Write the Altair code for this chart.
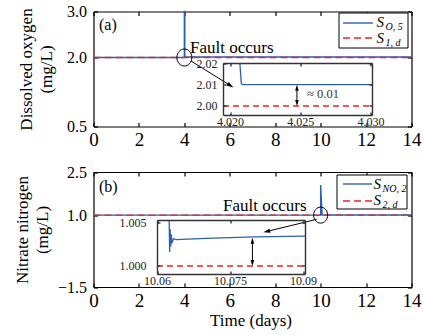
import altair as alt
import pandas as pd

BLUE = "#2f5fb3"
RED = "#e8262c"
FONT = "Liberation Serif"

# ---------------- values ----------------
x_ticks = [0, 2, 4, 6, 8, 10, 12, 14]
x_domain = [0, 14]

# panel (a): dissolved oxygen
a_ydom = [0.5, 3.0]
a_yticks = [0.5, 2.0, 3.0]
a_time = [0.0, 4.0, 4.0001, 4.0207, 4.0208, 14.0]
a_so5 = [2.0, 2.0, 3.6, 3.6, 2.0099, 2.0099]
a_ref_time = [0.0, 14.0]
a_ref = [2.0, 2.0]
# inset (a)
ai_xdom = [4.0195, 4.0301]
ai_ydom = [1.9958, 2.02]
ai_xticks = [4.020, 4.025, 4.030]
ai_yticks = [2.00, 2.01, 2.02]
ai_time = [4.0207, 4.0208, 4.0209, 4.0301]
ai_so5 = [3.6, 2.0105, 2.0099, 2.0099]
ai_ref_time = [4.0195, 4.0301]
ai_ref = [2.0, 2.0]
ai_gap_x = 4.02476
ai_gap_top = 2.0085
ai_gap_bottom = 2.0014
ai_gap_text = "\u2248 0.01"
ai_text_x = 4.02548
ai_text_y = 2.00358

# panel (b): nitrate nitrogen
b_ydom = [-1.5, 2.5]
b_yticks = [-1.5, 1.0, 2.5]
b_time = [0.0, 10.0, 10.0003, 10.0625, 10.065, 14.0]
b_sno2 = [1.0, 1.0, 2.05, 1.01, 1.003, 1.0036]
b_ref_time = [0.0, 14.0]
b_ref = [1.0, 1.0]
# inset (b)
bi_xdom = [10.06, 10.0904]
bi_ydom = [0.99909, 1.00523]
bi_xticks = [10.06, 10.075, 10.09]
bi_yticks = [1.000, 1.005]
bi_time = [10.0625, 10.0626, 10.0627, 10.0628, 10.0629, 10.0631, 10.0634,
           10.064, 10.07, 10.08, 10.0904]
bi_sno2 = [1.02, 1.0016, 1.0042, 1.0022, 1.0036, 1.0027, 1.0031,
           1.0030, 1.00315, 1.0033, 1.0034]
bi_ref_time = [10.06, 10.0904]
bi_ref = [1.0, 1.0]
bi_gap_x = 10.0796
bi_gap_top = 1.00286
bi_gap_bottom = 1.00034

# annotations (data coordinates)
fault_text = "Fault occurs"
a_fault_pt = (4.0, 2.0)
a_arrow_x = [4.292, 6.032]
a_arrow_y = [1.924, 1.389]
a_arrow_angle = 31.9
a_fault_text_pos = (4.248, 2.098)
b_fault_pt = (10.0, 1.0)
b_arrow_x = [9.827, 7.625]
b_arrow_y = [0.855, 0.430]
b_arrow_angle = 166.3
b_fault_text_pos = (5.701, 1.143)

# ---------------- layout (pixels) ----------------
W = 318
H = 275.5
XR = [0, W]
PA = [115, 0]
PB = [275.5, 160.5]
AI_X = [129.5, 278.5]
AI_Y = [103.5, 51.5]
BI_X = [63.5, 211.5]
BI_Y = [262.5, 208.5]

XL = 19
YL = 16
TL = 17

ELLIPSE_A = "M-0.88,0A0.88,1,0,1,0,0.88,0A0.88,1,0,1,0,-0.88,0Z"
HEAD = "M1,0L-1,-0.6L-1,0.6Z"
UP = "M0,-1L-0.6,1L0.6,1Z"
DOWN = "M0,1L-0.6,-1L0.6,-1Z"


def sc(dom, rng):
    return alt.Scale(domain=dom, range=rng, nice=False, zero=False, clamp=True)


def line_df(xs, ys):
    return pd.DataFrame({"x": xs, "y": ys, "i": list(range(len(xs)))})


def ax(orient, offset, values, labels=False, fmt=".1f", lsize=16, pad=4,
       tick=4, color="black", width=1.2, z=0, title=None, tx=None, ty=None,
       lcolor="black"):
    p = dict(orient=orient, offset=offset, values=values, grid=False,
             domain=True, domainColor=color, domainWidth=width,
             ticks=True, tickColor=color, tickWidth=width,
             tickSize={"expr": str(-tick)}, labels=labels, zindex=z,
             labelFlush=False, labelOverlap=False)
    if labels:
        p.update(format=fmt, labelFont=FONT, labelFontSize=lsize,
                 labelPadding=pad, labelColor=lcolor)
    if title is not None:
        p.update(title=title, titleFont=FONT, titleFontSize=TL,
                 titleFontWeight="normal", titleColor="black",
                 titleX=tx, titleY=ty, titleAngle=270 if orient == "left" else 0,
                 titleAlign="center", titleBaseline="middle", titleLineHeight=20)
    else:
        p["title"] = None
    return alt.Axis(**p)


def X(field, dom, rng, axis=None):
    return alt.X(field, type="quantitative", scale=sc(dom, rng), axis=axis)


def Y(field, dom, rng, axis=None):
    return alt.Y(field, type="quantitative", scale=sc(dom, rng), axis=axis)


one = pd.DataFrame({"k": [0]})
layers = []

# ---------- main panel (a) ----------
layers.append(alt.Chart(line_df(a_time, a_so5)).mark_line(color=BLUE, strokeWidth=1.4).encode(
    x=X("x", x_domain, XR, ax("bottom", -160.5, x_ticks, labels=True, fmt="d", lsize=XL, pad=8)),
    y=Y("y", a_ydom, PA, ax("left", 0, a_yticks, labels=True, fmt=".1f", lsize=YL, pad=11,
                            title=["Dissolved oxygen", "(mg/L)"], tx=-67, ty=57.5)),
    order=alt.Order("i:Q")))
layers.append(alt.Chart(line_df(a_ref_time, a_ref)).mark_line(color=RED, strokeWidth=1.4, strokeDash=[7, 4]).encode(
    x=X("x", x_domain, XR, ax("top", 0, x_ticks)),
    y=Y("y", a_ydom, PA, ax("right", 0, a_yticks)),
    order=alt.Order("i:Q")))

# ---------- main panel (b) ----------
layers.append(alt.Chart(line_df(b_time, b_sno2)).mark_line(color=BLUE, strokeWidth=1.4).encode(
    x=X("x", x_domain, XR, ax("bottom", 0, x_ticks, labels=True, fmt="d", lsize=XL, pad=8,
                              title="Time (days)", tx=157, ty=33)),
    y=Y("y", b_ydom, PB, ax("left", 0, b_yticks, labels=True, fmt=".1f", lsize=YL, pad=11,
                            title=["Nitrate nitrogen", "(mg/L)"], tx=-71, ty=218)),
    order=alt.Order("i:Q")))
layers.append(alt.Chart(line_df(b_ref_time, b_ref)).mark_line(color=RED, strokeWidth=1.4, strokeDash=[7, 4]).encode(
    x=X("x", x_domain, XR, ax("top", -160.5, x_ticks)),
    y=Y("y", b_ydom, PB, ax("right", 0, b_yticks)),
    order=alt.Order("i:Q")))


def inset(xdom, ydom, XRg, YRg, xticks, yticks, xfmt, yfmt, offs, ypad, blue_x, blue_y,
          ref_x, ref_y, gx, gtop, gbot):
    ob, ol, ot, orr = offs
    out = []
    bg = pd.DataFrame({"x0": [xdom[0]], "x1": [xdom[1]], "y0": [ydom[0]], "y1": [ydom[1]]})
    out.append(alt.Chart(bg).mark_rect(fill="white").encode(
        x=X("x0", xdom, XRg, ax("bottom", ob, xticks, labels=True, fmt=xfmt, lsize=12, pad=4,
                                tick=3, color="#333", width=1.4, z=1, lcolor="#222")),
        x2="x1:Q",
        y=Y("y0", ydom, YRg, ax("left", ol, yticks, labels=True, fmt=yfmt, lsize=12, pad=ypad,
                                tick=3, color="#333", width=1.4, z=1, lcolor="#222")),
        y2="y1:Q"))
    out.append(alt.Chart(line_df(ref_x, ref_y)).mark_line(color=RED, strokeWidth=1.3, strokeDash=[6, 4]).encode(
        x=X("x", xdom, XRg, ax("top", ot, xticks, tick=3, color="#333", width=1.4, z=1)),
        y=Y("y", ydom, YRg, ax("right", orr, yticks, tick=3, color="#333", width=1.4, z=1)),
        order=alt.Order("i:Q")))
    out.append(alt.Chart(line_df(blue_x, blue_y)).mark_line(color=BLUE, strokeWidth=1.3).encode(
        x=X("x", xdom, XRg), y=Y("y", ydom, YRg), order=alt.Order("i:Q")))
    gap = pd.DataFrame({"x": [gx], "top": [gtop], "bot": [gbot]})
    out.append(alt.Chart(gap).mark_rule(color="black", strokeWidth=1).encode(
        x=X("x", xdom, XRg), y=Y("top", ydom, YRg), y2="bot:Q"))
    out.append(alt.Chart(gap).mark_point(shape=UP, size=36, filled=True, color="black", opacity=1).encode(
        x=X("x", xdom, XRg), y=Y("top", ydom, YRg)))
    out.append(alt.Chart(gap).mark_point(shape=DOWN, size=36, filled=True, color="black", opacity=1).encode(
        x=X("x", xdom, XRg), y=Y("bot", ydom, YRg)))
    return out


layers += inset(ai_xdom, ai_ydom, AI_X, AI_Y, ai_xticks, ai_yticks, ".3f", ".2f",
                (-172, -129.5, -51.5, -39.5), 9, ai_time, ai_so5, ai_ref_time, ai_ref,
                ai_gap_x, ai_gap_top, ai_gap_bottom)
layers.append(alt.Chart(pd.DataFrame({"x": [ai_text_x], "y": [ai_text_y], "t": [ai_gap_text]})).mark_text(
    font=FONT, fontSize=12.5, align="left", baseline="alphabetic", color="#333").encode(
    x=X("x", ai_xdom, AI_X), y=Y("y", ai_ydom, AI_Y), text="t:N"))
layers += inset(bi_xdom, bi_ydom, BI_X, BI_Y, bi_xticks, bi_yticks, ".5~r", ".3f",
                (-13, -63.5, -208.5, -106.5), 14, bi_time, bi_sno2, bi_ref_time, bi_ref,
                bi_gap_x, bi_gap_top, bi_gap_bottom)


# ---------- annotations ----------
def annot(pt, ydom, YRg, size, arrow_x, arrow_y, angle, tpos):
    out = []
    out.append(alt.Chart(pd.DataFrame({"x": [pt[0]], "y": [pt[1]]})).mark_point(
        shape=ELLIPSE_A, size=size, filled=False, color="black", strokeWidth=1, opacity=1).encode(
        x=X("x", x_domain, XR), y=Y("y", ydom, YRg)))
    out.append(alt.Chart(line_df(arrow_x, arrow_y)).mark_line(color="black", strokeWidth=1).encode(
        x=X("x", x_domain, XR), y=Y("y", ydom, YRg), order=alt.Order("i:Q")))
    out.append(alt.Chart(pd.DataFrame({"x": [arrow_x[1]], "y": [arrow_y[1]]})).mark_point(
        shape=HEAD, size=49, filled=True, color="black", opacity=1, angle=angle).encode(
        x=X("x", x_domain, XR), y=Y("y", ydom, YRg)))
    out.append(alt.Chart(pd.DataFrame({"x": [tpos[0]], "y": [tpos[1]], "t": [fault_text]})).mark_text(
        font=FONT, fontSize=17, align="left", baseline="alphabetic", color="black").encode(
        x=X("x", x_domain, XR), y=Y("y", ydom, YRg), text="t:N"))
    return out


layers += annot(a_fault_pt, a_ydom, PA, 289, a_arrow_x, a_arrow_y, a_arrow_angle, a_fault_text_pos)
layers += annot(b_fault_pt, b_ydom, PB, 256, b_arrow_x, b_arrow_y, b_arrow_angle, b_fault_text_pos)


# ---------- panel labels and legends ----------
def txt(s, x, y, size, style="normal", align="left", baseline="alphabetic"):
    return alt.Chart(one).mark_text(text=s, font=FONT, fontSize=size, fontStyle=style,
                                    align=align, baseline=baseline, color="black").encode(
        x=alt.value(x), y=alt.value(y))


layers.append(txt("(a)", 5.5, 13.5, 16, baseline="middle"))
layers.append(txt("(b)", 5.5, 175.5, 16, baseline="middle"))


def legend(x0, x1, y0, y1, lx0, lx1, ly1, ly2, sx, subx, sb1, sb2, sub1, sub2):
    out = []
    out.append(alt.Chart(one).mark_rect(fill="white", stroke="black", strokeWidth=1).encode(
        x=alt.value(x0), x2=alt.value(x1), y=alt.value(y0), y2=alt.value(y1)))
    out.append(alt.Chart(one).mark_rule(color=BLUE, strokeWidth=1.4).encode(
        x=alt.value(lx0), x2=alt.value(lx1), y=alt.value(ly1)))
    out.append(alt.Chart(one).mark_rule(color=RED, strokeWidth=1.4, strokeDash=[7, 4]).encode(
        x=alt.value(lx0), x2=alt.value(lx1), y=alt.value(ly2)))
    out.append(txt("S", sx, sb1, 15, "italic"))
    out.append(txt(sub1, subx, sb1 + 3, 10, "italic"))
    out.append(txt("S", sx, sb2, 15, "italic"))
    out.append(txt(sub2, subx, sb2 + 2.5, 10, "italic"))
    return out


layers += legend(245.5, 314.5, 1.5, 36.5, 249.5, 279.5, 11.5, 26.5, 283, 292, 15.5, 31.5, "O, 5", "1, d")
layers += legend(243.5, 313.5, 163.5, 197.5, 249.5, 278.5, 172.5, 189.5, 280, 289, 177.5, 193.5, "NO, 2", "2, d")

chart = alt.layer(*layers).resolve_scale(x="independent", y="independent").properties(
    width=W, height=H,
    autosize=alt.AutoSizeParams(type="none"),
    padding={"left": 93.5, "top": 11.5, "right": 11.5, "bottom": 48},
    background="white",
).configure_view(strokeWidth=0)

chart.save("out.html", embed_options={"renderer": "svg", "actions": False})
